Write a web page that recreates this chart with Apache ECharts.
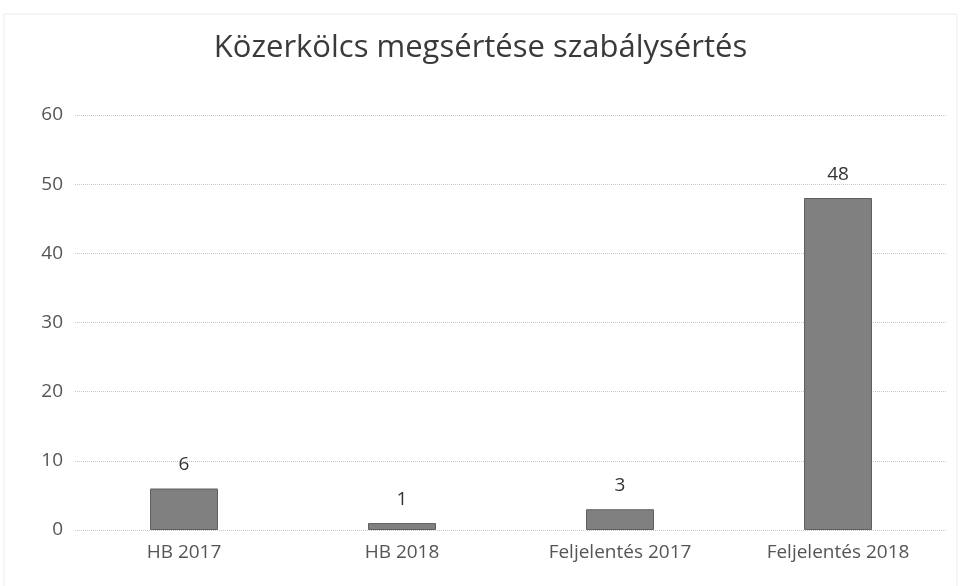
<!DOCTYPE html>
<html><head><meta charset="utf-8">
<script src="https://cdn.jsdelivr.net/npm/echarts@6/dist/echarts.min.js"></script>
<style>html,body{margin:0;padding:0;background:#fff}#c{width:961px;height:586px}</style>
</head><body><div id="c"></div>
<script>
const title = 'Közerkölcs megsértése szabálysértés';
const categories = ['HB 2017', 'HB 2018', 'Feljelentés 2017', 'Feljelentés 2018'];
const values = [6, 1, 3, 48];
const yTicks = [0, 10, 20, 30, 40, 50, 60];

const chart = echarts.init(document.getElementById('c'));
chart.setOption({
  backgroundColor: '#fff',
  animation: false,
  title: {
    text: title, left: 'center', top: 28,
    textStyle: { fontFamily: 'Open Sans', fontSize: 31, fontWeight: 'normal', color: '#3a3a3a' }
  },
  grid: { left: 75, right: 14, top: 115, bottom: 56 },
  xAxis: {
    type: 'category', data: categories,
    axisLine: { show: false }, axisTick: { show: false },
    axisLabel: { fontFamily: 'Open Sans', fontSize: 19, color: '#555', margin: 13 }
  },
  yAxis: {
    type: 'value', min: yTicks[0], max: yTicks[yTicks.length - 1], interval: 10,
    axisLine: { show: false }, axisTick: { show: false },
    axisLabel: { fontFamily: 'Open Sans', fontSize: 19, color: '#555', margin: 12 },
    splitLine: { lineStyle: { color: '#c8c8c8', type: 'dotted', width: 1 } }
  },
  series: [{
    type: 'bar', data: values, barWidth: 68,
    itemStyle: { color: '#808080', borderColor: '#5f5f5f', borderWidth: 1 },
    label: { show: true, position: 'top', distance: 14, fontFamily: 'Open Sans', fontSize: 19, color: '#333' }
  }],
  graphic: [{
    type: 'rect', shape: { x: 4, y: 14, width: 953, height: 580 },
    style: { fill: 'none', stroke: '#ececec', lineWidth: 1 }, silent: true
  }]
});
</script></body></html>
